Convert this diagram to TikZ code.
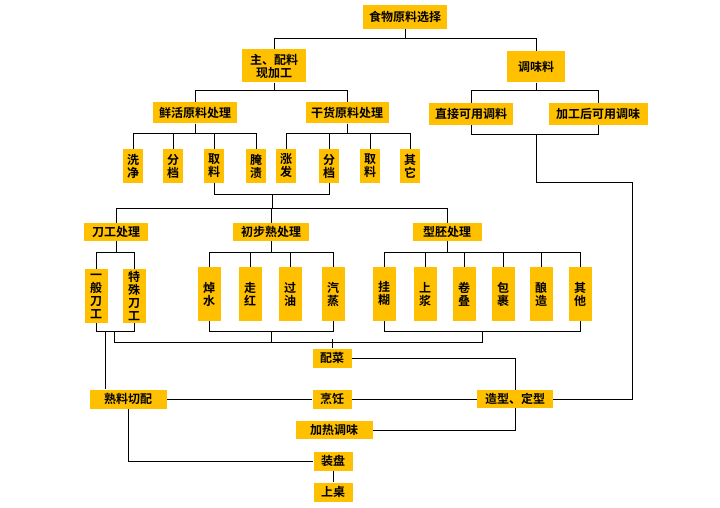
\documentclass[tikz,border=0pt]{standalone}
\usepackage{fontspec}
\newfontfamily\cjk{Noto Sans CJK SC Bold}
\usetikzlibrary{backgrounds}
\definecolor{boxyellow}{HTML}{FFC000}
\definecolor{linegray}{HTML}{333333}
\tikzset{
  box/.style={fill=boxyellow, inner sep=0pt, align=center,
    font=\cjk\fontsize{12}{13}\selectfont},
  leaf/.style={box, minimum width=20, minimum height=34},
  tall/.style={box, minimum width=23, minimum height=54},
  link/.style={draw=linegray, line width=1.1pt}
}
\begin{document}
\begin{tikzpicture}[x=1pt,y=-1pt]
  \useasboundingbox (0,0) rectangle (720,508);
  % top levels
  \node[box, minimum width=84, minimum height=24] (top) at (405,17) {食物原料选择};
  \node[box, minimum width=64, minimum height=33] (zhupei) at (274,66) {主、配料\\现加工};
  \node[box, minimum width=58, minimum height=31] (tiaowei) at (536,67) {调味料};
  \node[box, minimum width=84, minimum height=21] (xianhuo) at (195,113) {鲜活原料处理};
  \node[box, minimum width=83, minimum height=21] (ganhuo) at (347,113) {干货原料处理};
  \node[box, minimum width=84, minimum height=22] (zhijie) at (471,114) {直接可用调料};
  \node[box, minimum width=99, minimum height=22] (jiagong) at (598,114) {加工后可用调味};
  % raw material leaves
  \node[leaf] (xijing) at (133,166) {洗\\净};
  \node[leaf] (fendang) at (173,166) {分\\档};
  \node[leaf] (quliao) at (214,166) {取\\料};
  \node[leaf] (yanzi) at (256,166) {腌\\渍};
  \node[leaf] (zhangfa) at (286,166) {涨\\发};
  \node[leaf] (fendangb) at (329,166) {分\\档};
  \node[leaf] (quliaob) at (370,166) {取\\料};
  \node[leaf] (qitaa) at (410,166) {其\\它};
  % processing
  \node[box, minimum width=64, minimum height=18] (daogong) at (116,232) {刀工处理};
  \node[box, minimum width=76, minimum height=18] (chubu) at (271,232) {初步熟处理};
  \node[box, minimum width=69, minimum height=18] (xingpei) at (447,232) {型胚处理};
  \node[tall] (yiban) at (96,296) {一\\般\\刀\\工};
  \node[tall] (teshu) at (134,296) {特\\殊\\刀\\工};
  \node[tall] (chaoshui) at (209,294) {焯\\水};
  \node[tall] (zouhong) at (250,294) {走\\红};
  \node[tall] (guoyou) at (290,294) {过\\油};
  \node[tall] (qizheng) at (333,294) {汽\\蒸};
  \node[tall] (guahu) at (384,294) {挂\\糊};
  \node[tall] (shangjiang) at (425,294) {上\\浆};
  \node[tall] (juandie) at (464,294) {卷\\叠};
  \node[tall] (baoguo) at (503,294) {包\\裹};
  \node[tall] (niangzao) at (541,294) {酿\\造};
  \node[tall] (qitab) at (580,294) {其\\他};
  % final steps
  \node[box, minimum width=39, minimum height=19] (peicai) at (332,358) {配菜};
  \node[box, minimum width=77, minimum height=19] (shuliao) at (128,399) {熟料切配};
  \node[box, minimum width=39, minimum height=19] (pengren) at (332,399) {烹饪};
  \node[box, minimum width=76, minimum height=18] (zaoxing) at (515,399) {造型、定型};
  \node[box, minimum width=77, minimum height=18] (jiare) at (334,430) {加热调味};
  \node[box, minimum width=39, minimum height=19] (zhuangpan) at (333,461) {装盘};
  \node[box, minimum width=39, minimum height=19] (shangzhuo) at (333,492) {上桌};
  \coordinate (hubA) at (272,194);
  \coordinate (hubB) at (536,134);
  \coordinate (turn) at (632,182);
  \coordinate (dgout) at (114,331);
  \coordinate (cbout) at (271,331);
  \coordinate (xpout) at (482,331);
  \coordinate (ybout) at (105,331);
  \begin{scope}[on background layer, link]
    \fill[white] (0,0) rectangle (720,508);
    \foreach \c in {zhupei,tiaowei}
      \draw (top.south) -- ++(0,9) -| (\c.north);
    \foreach \c in {xianhuo,ganhuo}
      \draw (zhupei.south) -- ++(0,7.5) -| (\c.north);
    \foreach \c in {zhijie,jiagong}
      \draw (tiaowei.south) -- ++(0,7.5) -| (\c.north);
    \foreach \c in {xijing,fendang,quliao,yanzi}
      \draw (xianhuo.south) -- ++(0,9.5) -| (\c.north);
    \foreach \c in {zhangfa,fendangb,quliaob,qitaa}
      \draw (ganhuo.south) -- ++(0,9.5) -| (\c.north);
    \draw (quliao.south) -- ++(0,11) -| (fendangb.south);
    \foreach \c in {daogong,chubu,xingpei}
      \draw (hubA) -- ++(0,14) -| (\c.north);
    \foreach \c in {yiban,teshu}
      \draw (daogong.south) -- ++(0,11) -| (\c.north);
    \foreach \c in {chaoshui,zouhong,guoyou,qizheng}
      \draw (chubu.south) -- ++(0,11) -| (\c.north);
    \foreach \c in {guahu,shangjiang,juandie,baoguo,niangzao,qitab}
      \draw (xingpei.south) -- ++(0,11) -| (\c.north);
    \draw (yiban.south) -- ++(0,8) -| (teshu.south);
    \draw (chaoshui.south) -- ++(0,10) -| (qizheng.south);
    \draw (guahu.south) -- ++(0,10) -| (qitab.south);
    \draw (dgout) -- ++(0,11) -| (xpout);
    \draw (cbout) -- ++(0,11);
    \draw (peicai.north) -- ++(0,-9);
    \draw (ybout) -- (ybout |- shuliao.north);
    \draw (zhijie.south) -- ++(0,9.5) -| (jiagong.south);
    \draw (hubB) |- (turn) |- (zaoxing.east);
    \draw (peicai.east) -- (peicai.east -| zaoxing) -- (jiare.east -| zaoxing) -- (jiare.east);
    \draw (shuliao.east) -- (pengren.west);
    \draw (pengren.east) -- (zaoxing.west);
    \draw (shuliao.south) |- (zhuangpan.west);
    \draw (zhuangpan) -- (shangzhuo);
  \end{scope}
\end{tikzpicture}
\end{document}
